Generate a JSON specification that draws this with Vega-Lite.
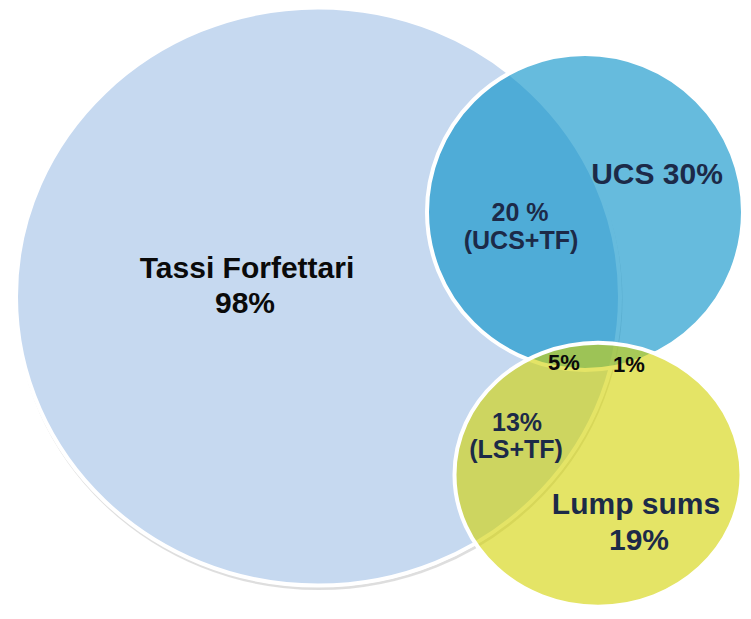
{
  "$schema": "https://vega.github.io/schema/vega-lite/v6.json",
  "width": 751,
  "height": 619,
  "padding": 0,
  "autosize": {"type": "fit", "contains": "padding"},
  "background": "white",
  "config": {"view": {"stroke": null}},
  "datasets": {
    "sets": [
      {"set": "Tassi Forfettari", "cx": 318, "cy": 295, "w": 604},
      {"set": "UCS", "cx": 585, "cy": 210, "w": 316},
      {"set": "Lump sums", "cx": 598, "cy": 474, "w": 287}
    ],
    "labels": [
      {"text": "Tassi Forfettari", "x": 247, "y": 276, "region": "TF"},
      {"text": "98%", "x": 245, "y": 312, "region": "TF"},
      {"text": "UCS 30%", "x": 657, "y": 182, "region": "UCS"},
      {"text": "20 %", "x": 520, "y": 219, "region": "UCS+TF"},
      {"text": "(UCS+TF)", "x": 521, "y": 247, "region": "UCS+TF"},
      {"text": "5%", "x": 564, "y": 369, "region": "UCS+LS+TF"},
      {"text": "1%", "x": 629, "y": 371, "region": "UCS+LS"},
      {"text": "13%", "x": 517, "y": 430, "region": "LS+TF"},
      {"text": "(LS+TF)", "x": 516, "y": 457, "region": "LS+TF"},
      {"text": "Lump sums", "x": 636, "y": 513, "region": "LS"},
      {"text": "19%", "x": 639, "y": 550, "region": "LS"}
    ]
  },
  "layer": [
    {
      "data": {"name": "sets"},
      "transform": [{"filter": "datum.set === 'Tassi Forfettari'"}],
      "mark": {"type": "point", "filled": false, "shape": "M-1,0A1,0.957,0,1,1,1,0A1,0.957,0,1,1,-1,0Z", "stroke": "#9a9a9a", "strokeWidth": 3, "strokeOpacity": 0.45, "yOffset": 3, "xOffset": 1},
      "encoding": {
        "x": {"field": "cx", "type": "quantitative", "scale": {"domain": [0, 751], "nice": false, "zero": false}, "axis": null},
        "y": {"field": "cy", "type": "quantitative", "scale": {"domain": [619, 0], "nice": false, "zero": false}, "axis": null},
        "size": {"field": "w", "type": "quantitative", "scale": {"type": "pow", "exponent": 2, "domain": [0, 600], "range": [0, 360000]}, "legend": null}
      }
    },
    {
      "data": {"name": "sets"},
      "transform": [{"filter": "datum.set === 'Tassi Forfettari'"}],
      "mark": {"type": "point", "filled": true, "shape": "M-1,0A1,0.957,0,1,1,1,0A1,0.957,0,1,1,-1,0Z", "fill": "#c6d9f0", "fillOpacity": 1, "stroke": "white", "strokeWidth": 4, "strokeOpacity": 1},
      "encoding": {
        "x": {"field": "cx", "type": "quantitative"},
        "y": {"field": "cy", "type": "quantitative"},
        "size": {"field": "w", "type": "quantitative"}
      }
    },
    {
      "data": {"name": "sets"},
      "transform": [{"filter": "datum.set === 'UCS'"}],
      "mark": {"type": "point", "filled": true, "shape": "circle", "fill": "#008ec7", "fillOpacity": 0.6, "stroke": "white", "strokeWidth": 4, "strokeOpacity": 1},
      "encoding": {
        "x": {"field": "cx", "type": "quantitative"},
        "y": {"field": "cy", "type": "quantitative"},
        "size": {"field": "w", "type": "quantitative"}
      }
    },
    {
      "data": {"name": "sets"},
      "transform": [{"filter": "datum.set === 'Lump sums'"}],
      "mark": {"type": "point", "filled": true, "shape": "M-1,0A1,0.92,0,1,1,1,0A1,0.92,0,1,1,-1,0Z", "fill": "#d2d200", "fillOpacity": 0.6, "stroke": "white", "strokeWidth": 4, "strokeOpacity": 1},
      "encoding": {
        "x": {"field": "cx", "type": "quantitative"},
        "y": {"field": "cy", "type": "quantitative"},
        "size": {"field": "w", "type": "quantitative"}
      }
    },
    {
      "data": {"name": "labels"},
      "transform": [{"filter": "datum.region === 'TF'"}],
      "mark": {"type": "text", "font": "Liberation Sans", "fontWeight": "bold", "fontSize": 30, "color": "#0a0a0a", "align": "center", "baseline": "alphabetic"},
      "encoding": {
        "x": {"field": "x", "type": "quantitative"},
        "y": {"field": "y", "type": "quantitative"},
        "text": {"field": "text"}
      }
    },
    {
      "data": {"name": "labels"},
      "transform": [{"filter": "datum.region === 'UCS' || datum.region === 'LS'"}],
      "mark": {"type": "text", "font": "Liberation Sans", "fontWeight": "bold", "fontSize": 30, "color": "#1c2a48", "align": "center", "baseline": "alphabetic"},
      "encoding": {
        "x": {"field": "x", "type": "quantitative"},
        "y": {"field": "y", "type": "quantitative"},
        "text": {"field": "text"}
      }
    },
    {
      "data": {"name": "labels"},
      "transform": [{"filter": "datum.region === 'UCS+TF' || datum.region === 'LS+TF'"}],
      "mark": {"type": "text", "font": "Liberation Sans", "fontWeight": "bold", "fontSize": 25, "color": "#1c2a48", "align": "center", "baseline": "alphabetic"},
      "encoding": {
        "x": {"field": "x", "type": "quantitative"},
        "y": {"field": "y", "type": "quantitative"},
        "text": {"field": "text"}
      }
    },
    {
      "data": {"name": "labels"},
      "transform": [{"filter": "datum.region === 'UCS+LS+TF' || datum.region === 'UCS+LS'"}],
      "mark": {"type": "text", "font": "Liberation Sans", "fontWeight": "bold", "fontSize": 22, "color": "#0a0a0a", "align": "center", "baseline": "alphabetic"},
      "encoding": {
        "x": {"field": "x", "type": "quantitative"},
        "y": {"field": "y", "type": "quantitative"},
        "text": {"field": "text"}
      }
    }
  ]
}
